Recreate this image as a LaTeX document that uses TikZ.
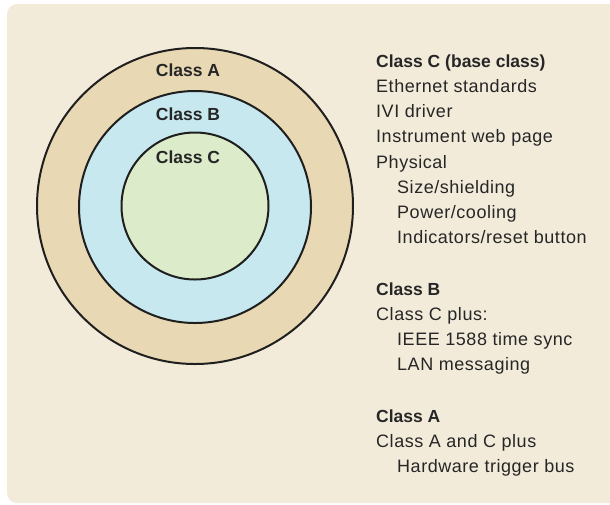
\documentclass[tikz,border=0pt]{standalone}
\usepackage{fontspec}
\setmainfont{Liberation Sans}[LetterSpace=3]
\newfontfamily\boldhead{Liberation Sans}[LetterSpace=0]
\begin{document}
\begin{tikzpicture}[x=1pt,y=-1pt,
  ring/.style={draw=black!88,line width=2pt},
  ringlabel/.style={font=\boldhead\fontsize{17.5}{20}\selectfont\bfseries,text=black!85,anchor=base,inner sep=0pt},
  head/.style={font=\boldhead\fontsize{17.5}{20}\selectfont\bfseries,text=black!85,anchor=base west,inner sep=0pt},
  item/.style={font=\fontsize{18}{20}\selectfont,text=black!85,anchor=base west,inner sep=0pt}]
  \definecolor{panel}{HTML}{F3EBDA}
  \definecolor{ringA}{HTML}{E8D8B3}
  \definecolor{ringB}{HTML}{C6E8EE}
  \definecolor{ringC}{HTML}{DCEBCA}
  \useasboundingbox (0,0) rectangle (610,504);
  % panel
  \fill[panel,rounded corners=10pt] (7,4) rectangle (630,503);
  % nested classes
  \fill[ringA] (195,206) circle (158);
  \draw[ring] (195,206) circle (158);
  \fill[ringB] (195,207) circle (116);
  \draw[ring] (195,207) circle (116);
  \fill[ringC] (195,206) circle (73.5);
  \draw[ring] (195,206) circle (73.5);
  \node[ringlabel] (la) at (188,76) {Class A};
  \node[ringlabel] (lb) at (188,120) {Class B};
  \node[ringlabel] (lc) at (188,163) {Class C};
  % class C description
  \node[head] (c0) at (376,67) {Class C (base class)};
  \node[item] (c1) at (376,92) {Ethernet standards};
  \node[item] (c2) at (376,117) {IVI driver};
  \node[item] (c3) at (376,142) {Instrument web page};
  \node[item] (c4) at (376,168) {Physical};
  \node[item] (c5) at (397,193) {Size/shielding};
  \node[item] (c6) at (397,218) {Power/cooling};
  \node[item] (c7) at (397,243) {Indicators/reset button};
  % class B description
  \node[head] (b0) at (376,295) {Class B};
  \node[item] (b1) at (376,320) {Class C plus:};
  \node[item] (b2) at (397,345) {IEEE 1588 time sync};
  \node[item] (b3) at (397,370) {LAN messaging};
  % class A description
  \node[head] (a0) at (376,422) {Class A};
  \node[item] (a1) at (376,447) {Class A and C plus};
  \node[item] (a2) at (397,472) {Hardware trigger bus};
\end{tikzpicture}
\end{document}
